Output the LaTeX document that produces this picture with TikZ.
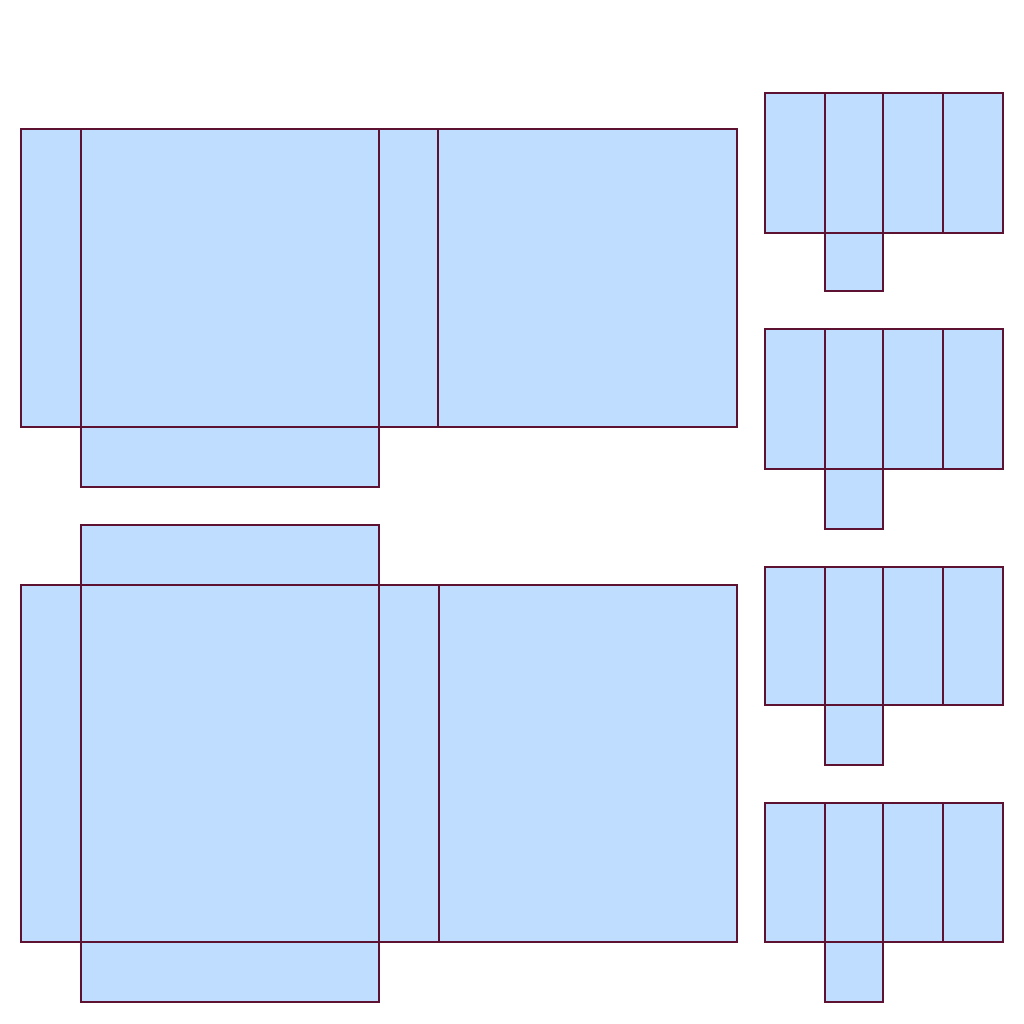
\documentclass[tikz,border=0pt]{standalone}
\definecolor{facefill}{RGB}{191,221,255}
\definecolor{edgecol}{RGB}{92,18,48}
\tikzset{face/.style={fill=facefill,draw=edgecol,line width=1pt}}
\begin{document}
\begin{tikzpicture}[x=0.5pt,y=-0.5pt]
\useasboundingbox (0,0) rectangle (1024,1024);
\fill[white] (0,0) rectangle (1024,1024);
% big net 1
\foreach \a/\b in {21/81,81/379,379/438,438/737}{\draw[face] (\a,129) rectangle (\b,427);}
\draw[face] (81,427) rectangle (379,487);
% big net 2
\draw[face] (81,525) rectangle (379,585);
\foreach \a/\b in {21/81,81/379,379/439,439/737}{\draw[face] (\a,585) rectangle (\b,942);}
\draw[face] (81,942) rectangle (379,1002);
% small nets
\foreach \t/\m/\f in {93/233/291,329/469/529,567/705/765,803/942/1002}{
  \foreach \a/\b in {765/825,825/883,883/943,943/1003}{\draw[face] (\a,\t) rectangle (\b,\m);}
  \draw[face] (825,\m) rectangle (883,\f);
}
\end{tikzpicture}
\end{document}
